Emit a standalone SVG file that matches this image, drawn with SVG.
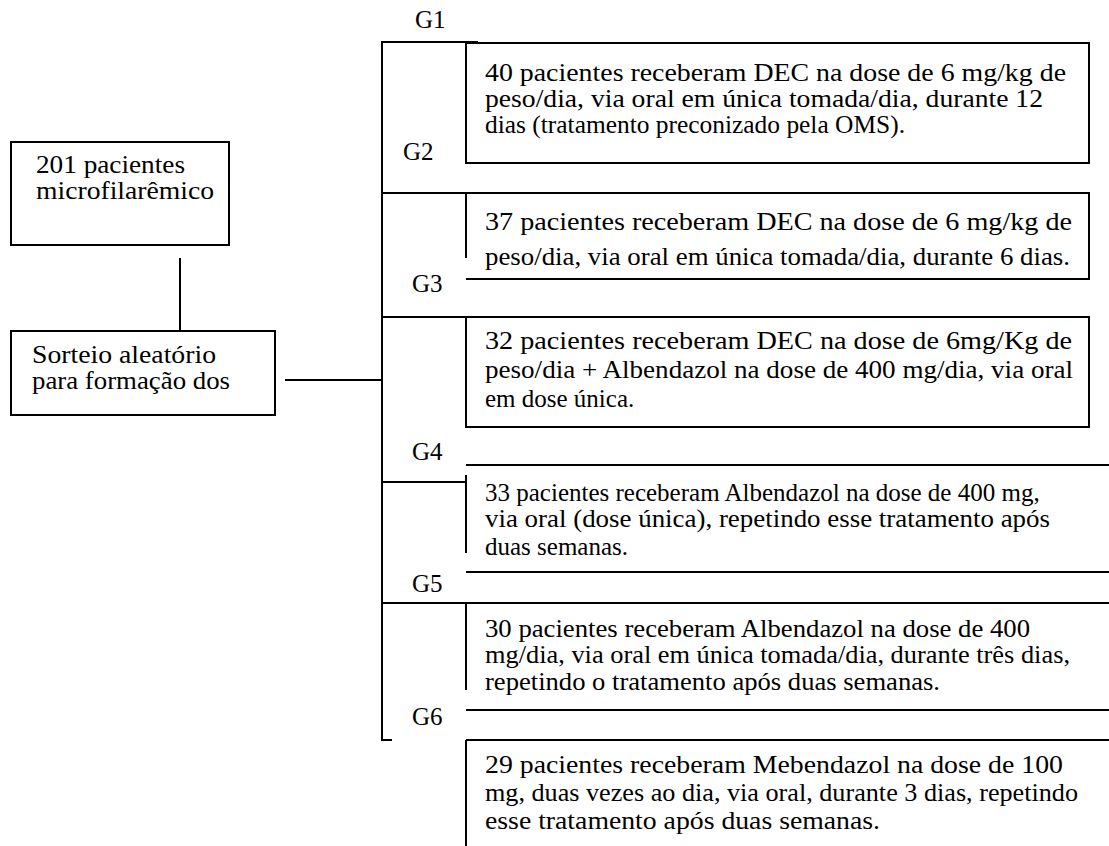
<svg xmlns="http://www.w3.org/2000/svg" width="1109" height="846" viewBox="0 0 1109 846">
<style>
text{font-family:"Liberation Serif","Times New Roman",serif;font-size:25px;fill:#000}
.ln{stroke:#000;stroke-width:2;fill:none}
</style>
<rect x="0" y="0" width="1109" height="846" fill="#fff"/>
<g id="connectors" class="ln">
<line x1="180" y1="258" x2="180" y2="332"/>
<line x1="285" y1="380" x2="382" y2="380"/>
<line x1="382" y1="42" x2="382" y2="741"/>
<line x1="381" y1="42" x2="478" y2="42"/>
<line x1="381" y1="193" x2="466" y2="193"/>
<line x1="381" y1="317" x2="466" y2="317"/>
<line x1="381" y1="482" x2="466" y2="482"/>
<line x1="381" y1="603" x2="466" y2="603"/>
<line x1="381" y1="740" x2="392" y2="740"/>
</g>
<g id="n-total">
<rect class="ln" x="11" y="142" width="218" height="103"/>
<text x="36" y="173" textLength="149" lengthAdjust="spacingAndGlyphs">201 pacientes</text>
<text x="36" y="199" textLength="178" lengthAdjust="spacingAndGlyphs">microfilarêmico</text>
</g>
<g id="n-sorteio">
<rect class="ln" x="11" y="331" width="264" height="84"/>
<text x="32" y="363" textLength="184" lengthAdjust="spacingAndGlyphs">Sorteio aleatório</text>
<text x="32" y="389" textLength="198" lengthAdjust="spacingAndGlyphs">para formação dos</text>
</g>
<g id="label-g1"><text x="415" y="28">G1</text></g>
<g id="n-g1">
<rect class="ln" x="466" y="43" width="623" height="120"/>
<text x="485" y="81" textLength="581" lengthAdjust="spacingAndGlyphs">40 pacientes receberam DEC na dose de 6 mg/kg de</text>
<text x="485" y="107" textLength="558" lengthAdjust="spacingAndGlyphs">peso/dia, via oral em única tomada/dia, durante 12</text>
<text x="485" y="133" textLength="420" lengthAdjust="spacingAndGlyphs">dias (tratamento preconizado pela OMS).</text>
</g>
<g id="label-g2"><text x="403" y="160">G2</text></g>
<g id="n-g2">
<path class="ln" d="M466,258 V193 H1089 V279 H466"/>
<text x="485" y="230" textLength="587" lengthAdjust="spacingAndGlyphs">37 pacientes receberam DEC na dose de 6 mg/kg de</text>
<text x="485" y="265" textLength="585" lengthAdjust="spacingAndGlyphs">peso/dia, via oral em única tomada/dia, durante 6 dias.</text>
</g>
<g id="label-g3"><text x="412" y="292">G3</text></g>
<g id="n-g3">
<rect class="ln" x="466" y="317" width="623" height="110"/>
<text x="485" y="349" textLength="587" lengthAdjust="spacingAndGlyphs">32 pacientes receberam DEC na dose de 6mg/Kg de</text>
<text x="485" y="378" textLength="588" lengthAdjust="spacingAndGlyphs">peso/dia + Albendazol na dose de 400 mg/dia, via oral</text>
<text x="485" y="407">em dose única.</text>
</g>
<g id="label-g4"><text x="412" y="460">G4</text></g>
<g id="n-g4">
<path class="ln" d="M466,465 H1109 M466,475 V553 M466,572 H1109"/>
<text x="485" y="501">33 pacientes receberam Albendazol na dose de 400 mg,</text>
<text x="485" y="527" textLength="565" lengthAdjust="spacingAndGlyphs">via oral (dose única), repetindo esse tratamento após</text>
<text x="485" y="555">duas semanas.</text>
</g>
<g id="label-g5"><text x="412" y="592">G5</text></g>
<g id="n-g5">
<path class="ln" d="M466,603 H1109 M466,603 V690 M466,710 H1109"/>
<text x="485" y="637" textLength="545" lengthAdjust="spacingAndGlyphs">30 pacientes receberam Albendazol na dose de 400</text>
<text x="485" y="663" textLength="585" lengthAdjust="spacingAndGlyphs">mg/dia, via oral em única tomada/dia, durante três dias,</text>
<text x="485" y="690" textLength="455" lengthAdjust="spacingAndGlyphs">repetindo o tratamento após duas semanas.</text>
</g>
<g id="label-g6"><text x="412" y="725">G6</text></g>
<g id="n-g6">
<path class="ln" d="M466,740 H1109 M466,740 V846"/>
<text x="485" y="773" textLength="578" lengthAdjust="spacingAndGlyphs">29 pacientes receberam Mebendazol na dose de 100</text>
<text x="485" y="801" textLength="593" lengthAdjust="spacingAndGlyphs">mg, duas vezes ao dia, via oral, durante 3 dias, repetindo</text>
<text x="485" y="829" textLength="395" lengthAdjust="spacingAndGlyphs">esse tratamento após duas semanas.</text>
</g>
</svg>
